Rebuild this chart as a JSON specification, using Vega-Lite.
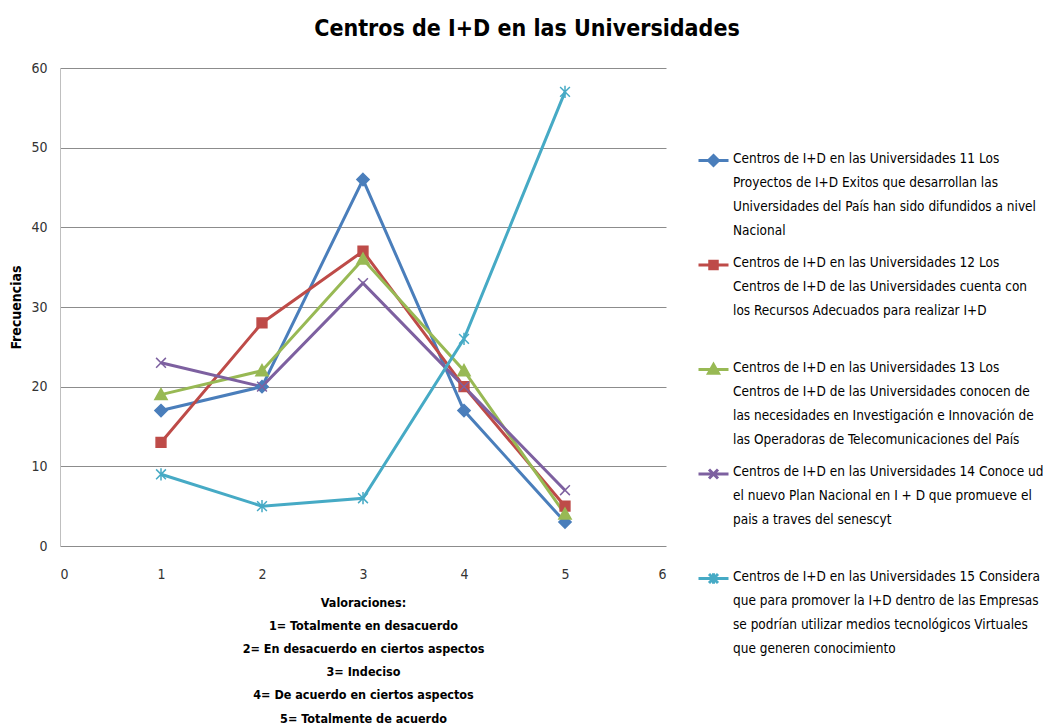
{
  "$schema": "https://vega.github.io/schema/vega-lite/v6.json",
  "width": 606,
  "height": 478,
  "autosize": {"type": "none"},
  "padding": {"left": 60, "top": 68, "right": 386, "bottom": 179},
  "background": "white",
  "title": {
    "text": "Centros de I+D en las Universidades",
    "font": "Liberation Sans Narrow, DejaVu Sans Condensed, Lato",
    "fontSize": 23,
    "fontWeight": "bold",
    "color": "#000000",
    "anchor": "middle",
    "frame": "bounds",
    "baseline": "alphabetic",
    "offset": 20,
    "dy": 18
  },
  "config": {
    "view": {"stroke": null},
    "font": "Liberation Sans Narrow, DejaVu Sans Condensed, Lato"
  },
  "data": {
    "values": [
      {"valoracion": 1, "frecuencia": 17, "serie": "Centros de I+D en las Universidades 11 Los|Proyectos de I+D Exitos que desarrollan las|Universidades del País han sido difundidos a nivel|Nacional"},
      {"valoracion": 2, "frecuencia": 20, "serie": "Centros de I+D en las Universidades 11 Los|Proyectos de I+D Exitos que desarrollan las|Universidades del País han sido difundidos a nivel|Nacional"},
      {"valoracion": 3, "frecuencia": 46, "serie": "Centros de I+D en las Universidades 11 Los|Proyectos de I+D Exitos que desarrollan las|Universidades del País han sido difundidos a nivel|Nacional"},
      {"valoracion": 4, "frecuencia": 17, "serie": "Centros de I+D en las Universidades 11 Los|Proyectos de I+D Exitos que desarrollan las|Universidades del País han sido difundidos a nivel|Nacional"},
      {"valoracion": 5, "frecuencia": 3, "serie": "Centros de I+D en las Universidades 11 Los|Proyectos de I+D Exitos que desarrollan las|Universidades del País han sido difundidos a nivel|Nacional"},
      {"valoracion": 1, "frecuencia": 13, "serie": "Centros de I+D en las Universidades 12 Los|Centros de I+D de las Universidades cuenta con|los Recursos Adecuados para realizar I+D"},
      {"valoracion": 2, "frecuencia": 28, "serie": "Centros de I+D en las Universidades 12 Los|Centros de I+D de las Universidades cuenta con|los Recursos Adecuados para realizar I+D"},
      {"valoracion": 3, "frecuencia": 37, "serie": "Centros de I+D en las Universidades 12 Los|Centros de I+D de las Universidades cuenta con|los Recursos Adecuados para realizar I+D"},
      {"valoracion": 4, "frecuencia": 20, "serie": "Centros de I+D en las Universidades 12 Los|Centros de I+D de las Universidades cuenta con|los Recursos Adecuados para realizar I+D"},
      {"valoracion": 5, "frecuencia": 5, "serie": "Centros de I+D en las Universidades 12 Los|Centros de I+D de las Universidades cuenta con|los Recursos Adecuados para realizar I+D"},
      {"valoracion": 1, "frecuencia": 19, "serie": "Centros de I+D en las Universidades 13 Los|Centros de I+D de las Universidades conocen de|las necesidades en Investigación e Innovación de|las Operadoras de Telecomunicaciones del País"},
      {"valoracion": 2, "frecuencia": 22, "serie": "Centros de I+D en las Universidades 13 Los|Centros de I+D de las Universidades conocen de|las necesidades en Investigación e Innovación de|las Operadoras de Telecomunicaciones del País"},
      {"valoracion": 3, "frecuencia": 36, "serie": "Centros de I+D en las Universidades 13 Los|Centros de I+D de las Universidades conocen de|las necesidades en Investigación e Innovación de|las Operadoras de Telecomunicaciones del País"},
      {"valoracion": 4, "frecuencia": 22, "serie": "Centros de I+D en las Universidades 13 Los|Centros de I+D de las Universidades conocen de|las necesidades en Investigación e Innovación de|las Operadoras de Telecomunicaciones del País"},
      {"valoracion": 5, "frecuencia": 4, "serie": "Centros de I+D en las Universidades 13 Los|Centros de I+D de las Universidades conocen de|las necesidades en Investigación e Innovación de|las Operadoras de Telecomunicaciones del País"},
      {"valoracion": 1, "frecuencia": 23, "serie": "Centros de I+D en las Universidades 14 Conoce ud|el nuevo  Plan Nacional en I + D que promueve el|pais a traves  del  senescyt"},
      {"valoracion": 2, "frecuencia": 20, "serie": "Centros de I+D en las Universidades 14 Conoce ud|el nuevo  Plan Nacional en I + D que promueve el|pais a traves  del  senescyt"},
      {"valoracion": 3, "frecuencia": 33, "serie": "Centros de I+D en las Universidades 14 Conoce ud|el nuevo  Plan Nacional en I + D que promueve el|pais a traves  del  senescyt"},
      {"valoracion": 4, "frecuencia": 20, "serie": "Centros de I+D en las Universidades 14 Conoce ud|el nuevo  Plan Nacional en I + D que promueve el|pais a traves  del  senescyt"},
      {"valoracion": 5, "frecuencia": 7, "serie": "Centros de I+D en las Universidades 14 Conoce ud|el nuevo  Plan Nacional en I + D que promueve el|pais a traves  del  senescyt"},
      {"valoracion": 1, "frecuencia": 9, "serie": "Centros de I+D en las Universidades 15 Considera|que para promover la I+D dentro de las Empresas|se podrían utilizar medios tecnológicos Virtuales|que generen conocimiento"},
      {"valoracion": 2, "frecuencia": 5, "serie": "Centros de I+D en las Universidades 15 Considera|que para promover la I+D dentro de las Empresas|se podrían utilizar medios tecnológicos Virtuales|que generen conocimiento"},
      {"valoracion": 3, "frecuencia": 6, "serie": "Centros de I+D en las Universidades 15 Considera|que para promover la I+D dentro de las Empresas|se podrían utilizar medios tecnológicos Virtuales|que generen conocimiento"},
      {"valoracion": 4, "frecuencia": 26, "serie": "Centros de I+D en las Universidades 15 Considera|que para promover la I+D dentro de las Empresas|se podrían utilizar medios tecnológicos Virtuales|que generen conocimiento"},
      {"valoracion": 5, "frecuencia": 57, "serie": "Centros de I+D en las Universidades 15 Considera|que para promover la I+D dentro de las Empresas|se podrían utilizar medios tecnológicos Virtuales|que generen conocimiento"}
    ]
  },
  "encoding": {
    "x": {
      "field": "valoracion",
      "type": "quantitative",
      "scale": {"domain": [0, 6], "nice": false},
      "axis": {
        "values": [0, 1, 2, 3, 4, 5, 6],
        "format": "d",
        "grid": false,
        "domain": false,
        "ticks": false,
        "labelFontSize": 14,
        "labelColor": "#333333",
        "labelPadding": 21,
        "title": ["Valoraciones:", "1= Totalmente en desacuerdo", "2= En desacuerdo en ciertos aspectos", "3= Indeciso", "4= De acuerdo en ciertos aspectos", "5= Totalmente de acuerdo"],
        "titleFontSize": 12.5,
        "titleFontWeight": "bold",
        "titleColor": "#000000",
        "titleLineHeight": 23.2,
        "titlePadding": 15
      }
    },
    "y": {
      "field": "frecuencia",
      "type": "quantitative",
      "scale": {"domain": [0, 60], "nice": false},
      "axis": {
        "values": [0, 10, 20, 30, 40, 50, 60],
        "grid": true,
        "gridColor": "#8c8c8c",
        "gridWidth": 1,
        "domain": true,
        "domainColor": "#bfbfbf",
        "domainWidth": 1,
        "ticks": false,
        "labelFontSize": 14,
        "labelColor": "#333333",
        "labelPadding": 13,
        "title": "Frecuencias",
        "titleFontSize": 14,
        "titleFontWeight": "bold",
        "titleColor": "#000000",
        "titlePadding": 7
      }
    }
  },
  "layer": [
    {
      "mark": {"type": "line", "strokeWidth": 3},
      "encoding": {
        "color": {
          "field": "serie",
          "type": "nominal",
          "scale": {"range": ["#4A7EBB", "#BE4B48", "#98B954", "#7D60A0", "#46AAC5"]},
          "legend": {
            "orient": "none",
            "legendX": 637,
            "legendY": 76,
            "title": null,
            "labelExpr": "split(datum.label, '|')",
            "labelFontSize": 13.5,
            "labelColor": "#000000",
            "labelLimit": 500,
            "labelOffset": 3,
            "labelBaseline": "top",
            "symbolSize": 900,
            "symbolStrokeWidth": 3,
            "symbolOffset": 0,
            "gridAlign": "all",
            "rowPadding": 11.5,
            "encode": {
              "symbols": {
                "update": {
                  "shape": {"signal": "['M-1,0H1M0,-0.33L0.33,0L0,0.33L-0.33,0Z', 'M-1,0H1M-0.25,-0.25H0.25V0.25H-0.25Z', 'M-1,0H1M0,-0.33L0.33,0.25H-0.33Z', 'M-1,0H1M-0.3,-0.3L0.3,0.3M-0.3,0.3L0.3,-0.3', 'M-1,0H1M-0.3,-0.3L0.3,0.3M-0.3,0.3L0.3,-0.3M0,-0.35V0.35'][datum.index]"},
                  "fill": {"signal": "['#4A7EBB', '#BE4B48', '#98B954', '#7D60A0', '#46AAC5'][datum.index]"},
                  "stroke": {"signal": "['#4A7EBB', '#BE4B48', '#98B954', '#7D60A0', '#46AAC5'][datum.index]"},
                  "fillOpacity": {"value": 1},
                  "strokeWidth": {"value": 3}
                }
              },
              "labels": {
                "update": {
                  "lineHeight": {"value": 24},
                  "dy": {"value": -9}
                }
              }
            }
          }
        }
      }
    },
    {
      "mark": {"type": "point", "filled": true, "opacity": 1, "size": 150, "strokeWidth": 1.5},
      "encoding": {
        "color": {"field": "serie", "type": "nominal"},
        "stroke": {
          "field": "serie",
          "type": "nominal",
          "scale": {"range": ["#4A7EBB", "#BE4B48", "#98B954", "#7D60A0", "#46AAC5"]},
          "legend": null
        },
        "shape": {
          "field": "serie",
          "type": "nominal",
          "scale": {"range": ["M0,-1L1,0L0,1L-1,0Z", "M-0.8,-0.8H0.8V0.8H-0.8Z", "M0,-1L1,0.8H-1Z", "M-0.8,-0.8L0.8,0.8M-0.8,0.8L0.8,-0.8", "M-0.8,-0.8L0.8,0.8M-0.8,0.8L0.8,-0.8M0,-1V1"]},
          "legend": null
        }
      }
    }
  ]
}
